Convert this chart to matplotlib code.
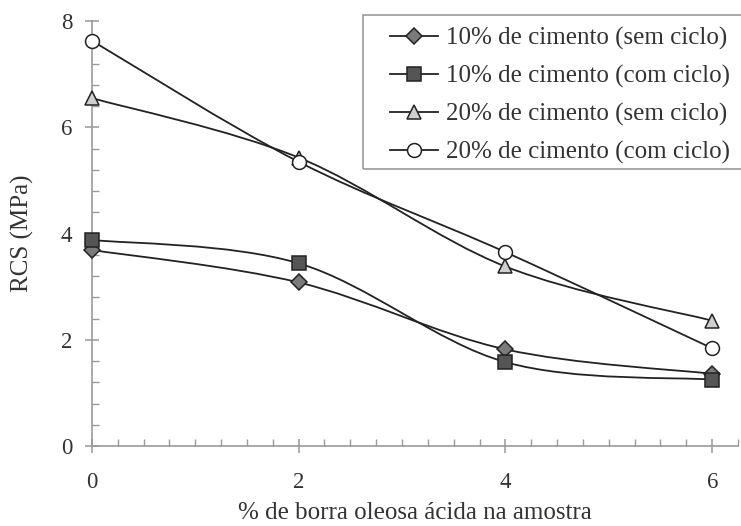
import numpy as np
import matplotlib.pyplot as plt
from matplotlib.path import Path
from matplotlib.patches import PathPatch, Rectangle
from matplotlib.ticker import MultipleLocator

plt.rcParams['font.family'] = ['Liberation Serif', 'DejaVu Serif']

# % de borra oleosa ácida
borra = [0, 2, 4, 6]

# RCS (MPa)
c10_sem = [3.69, 3.08, 1.82, 1.36]
c10_com = [3.88, 3.44, 1.58, 1.25]
c20_sem = [6.55, 5.43, 3.38, 2.36]
c20_com = [7.63, 5.35, 3.65, 1.84]

labels = ['10% de cimento (sem ciclo)', '10% de cimento (com ciclo)',
          '20% de cimento (sem ciclo)', '20% de cimento (com ciclo)']


def smooth_path(x, y):
    # Catmull-Rom style bezier through the points (spreadsheet "smoothed line")
    p = np.column_stack([x, y]).astype(float)
    verts = [p[0]]
    codes = [Path.MOVETO]
    n = len(p)
    for i in range(n - 1):
        p0 = p[i - 1] if i > 0 else p[i]
        p1 = p[i]
        p2 = p[i + 1]
        p3 = p[i + 2] if i + 2 < n else p[i + 1]
        verts += [p1 + (p2 - p0) / 6, p2 - (p3 - p1) / 6, p2]
        codes += [Path.CURVE4] * 3
    return Path(verts, codes)


W, H = 741, 526
fig = plt.figure(figsize=(W / 100, H / 100), dpi=100)
ax = fig.add_axes([0.124, 0.152, 0.872, 0.808])

styles = [
    (c10_sem, 'D', '#7a7a7a', 8.5),
    (c10_com, 's', '#555555', 9.5),
    (c20_sem, '^', '#cfcfcf', 10.5),
    (c20_com, 'o', 'white', 10),
]

for (vals, mk, fc, ms), lab in zip(styles, labels):
    ax.add_patch(PathPatch(smooth_path(borra, vals), fill=False,
                           edgecolor='#222222', lw=1.3, zorder=2, clip_on=False))
    ax.plot(borra, vals, linestyle='none', marker=mk, markersize=ms,
            markerfacecolor=fc, markeredgecolor='#222222', markeredgewidth=1.1,
            zorder=3, clip_on=False)
    # legend proxy
    ax.plot([], [], color='#222222', lw=1.3, marker=mk, markersize=ms,
            markerfacecolor=fc, markeredgecolor='#222222', markeredgewidth=1.1,
            label=lab)

ax.set_xlim(0, 6.25)
ax.set_ylim(0, 8)
ax.xaxis.set_major_locator(MultipleLocator(2))
ax.xaxis.set_minor_locator(MultipleLocator(0.25))
ax.yaxis.set_major_locator(MultipleLocator(2))
ax.yaxis.set_minor_locator(MultipleLocator(0.4))

for s in ['top', 'right']:
    ax.spines[s].set_visible(False)
for s in ['left', 'bottom']:
    ax.spines[s].set_color('#999999')
    ax.spines[s].set_linewidth(1.2)

ax.tick_params(which='major', direction='inout', length=10, width=1.1,
               color='#999999', labelsize=16.5, labelcolor='#333333')
ax.tick_params(axis='x', which='major', pad=14)
ax.tick_params(axis='y', which='major', pad=9)
ax.tick_params(which='minor', direction='in', length=5, width=1.0,
               color='#999999')

ax.set_xlabel('% de borra oleosa ácida na amostra', fontsize=18,
              color='#333333')
ax.set_ylabel('RCS (MPa)', fontsize=18, color='#333333')
ax.xaxis.set_label_coords(0.5, -0.132)
ax.yaxis.set_label_coords(-0.09, 0.5)

leg = ax.legend(loc='upper left', bbox_to_anchor=(390 / W, 1 - 27 / H),
                bbox_transform=fig.transFigure, fontsize=18, frameon=False,
                borderaxespad=0, borderpad=0, handlelength=1.9,
                handletextpad=0.35, labelspacing=0.6)
for t in leg.get_texts():
    t.set_color('#333333')

# legend box, runs off the right edge
fig.patches.append(Rectangle((363 / W, 1 - 169 / H), (W + 10 - 363) / W,
                             (169 - 15) / H, transform=fig.transFigure,
                             fill=False, edgecolor='#999999', lw=1.2))

fig.savefig('out.png', dpi=100)
